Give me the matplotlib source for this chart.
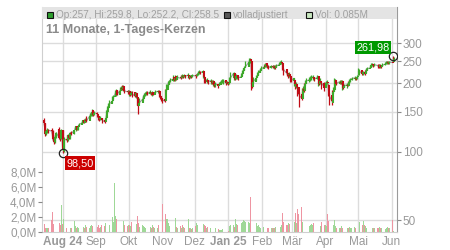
import numpy as np
import pandas as pd
import matplotlib
matplotlib.use('Agg')
import matplotlib.pyplot as plt
import matplotlib.dates as mdates
from matplotlib.patches import Rectangle

plt.rcParams['font.family'] = ['Liberation Sans', 'DejaVu Sans']

# --- daily candles, Jul 15 2024 .. Jun 3 2025 (one line per month) ---
opens = [
    138, 133, 119, 123, 125, 124, 123, 113, 110, 116, 126, 115, 114,
    124, 101, 114, 112, 118, 115, 121, 120, 124, 129, 125, 128, 131, 134, 137, 134, 138, 136, 143, 146, 152, 145, 148,
    147, 143, 139, 141, 138, 135, 140, 150, 156, 162, 166, 173, 176, 186, 178, 185, 190, 188, 195, 185, 183,
    185, 178, 181, 182, 175, 180, 173, 158, 164, 170, 176, 179, 181, 179, 183, 180, 182, 178, 182, 184, 184, 176, 172,
    170, 166, 186, 196, 202, 205, 212, 206, 214, 207, 212, 210, 215, 213, 216, 214, 217, 211, 215, 213, 216,
    215, 217, 220, 224, 222, 226, 212, 202, 207, 203, 205, 200, 204, 196, 199, 195, 197, 202, 204, 206, 200, 202,
    199, 200, 210, 221, 208, 214, 216, 211, 213, 220, 226, 232, 236, 247, 254, 249, 193, 203, 210, 214, 221, 226, 230,
    238, 236, 244, 238, 234, 237, 235, 238, 232, 237, 241, 245, 248, 244, 230, 221, 216, 219, 214, 205,
    206, 192, 199, 193, 179, 171, 188, 184, 198, 204, 207, 209, 211, 213, 208, 211, 214, 198, 204, 201, 191,
    200, 203, 196, 178, 164, 183, 186, 207, 199, 203, 201, 204, 190, 194, 197, 195, 202, 206, 209, 211, 208, 212,
    220, 228, 220, 223, 219, 226, 231, 233, 239, 242, 240, 241, 239, 236, 240, 235, 239, 242, 246, 248, 245, 247,
    248, 257,
]
highs = [
    140, 134, 125, 127, 126, 127, 124, 116, 118, 122, 128, 118, 126,
    125, 116, 118, 120, 119, 122, 123, 125, 130, 130, 130, 133, 138, 138, 139, 140, 144, 148, 150, 154, 150, 151,
    149, 145, 142, 143, 140, 141, 152, 158, 164, 168, 175, 178, 186, 188, 186, 192, 194, 197, 197, 188, 187,
    186, 182, 184, 184, 181, 182, 174, 166, 172, 178, 181, 183, 185, 184, 186, 183, 185, 183, 186, 187, 186, 178, 175,
    172, 188, 198, 204, 207, 210, 217, 212, 218, 213, 216, 217, 219, 218, 220, 218, 221, 216, 218, 217, 219,
    219, 222, 226, 228, 227, 228, 215, 209, 210, 207, 208, 206, 206, 201, 202, 199, 203, 206, 208, 208, 204, 205,
    201, 212, 223, 224, 215, 219, 218, 215, 221, 228, 234, 238, 249, 258, 257, 251, 205, 212, 216, 223, 228, 233, 237,
    243, 244, 246, 242, 239, 241, 240, 240, 239, 243, 247, 251, 252, 246, 234, 226, 222, 224, 217, 212,
    211, 201, 203, 195, 182, 190, 194, 200, 207, 210, 212, 214, 216, 216, 213, 216, 215, 206, 210, 203, 203,
    205, 206, 198, 181, 186, 192, 210, 209, 205, 207, 206, 206, 196, 199, 200, 204, 209, 211, 213, 214, 213, 216,
    232, 231, 225, 225, 228, 233, 235, 241, 244, 246, 243, 245, 243, 242, 242, 241, 244, 248, 250, 251, 249, 250,
    261.98, 259.8,
]
lows = [
    131, 117, 118, 121, 121, 121, 112, 108, 109, 115, 114, 111, 113,
    98.5, 100, 110, 111, 113, 114, 118, 119, 123, 124, 125, 131, 133, 133, 133, 135, 135, 141, 144, 143, 143, 145,
    142, 137, 136, 137, 133, 134, 139, 148, 155, 160, 165, 170, 175, 176, 177, 184, 186, 187, 184, 180, 179,
    176, 176, 178, 174, 174, 172, 160, 147, 163, 169, 174, 176, 178, 177, 179, 177, 176, 177, 180, 181, 174, 170, 166,
    163, 165, 185, 194, 199, 202, 204, 204, 205, 206, 208, 209, 211, 210, 212, 211, 210, 209, 211, 211, 213,
    211, 215, 218, 220, 219, 210, 200, 200, 201, 199, 198, 198, 194, 193, 193, 191, 196, 199, 201, 198, 196, 198,
    197, 199, 209, 206, 207, 208, 209, 206, 212, 218, 224, 229, 235, 245, 246, 186, 190, 201, 206, 212, 218, 223, 228,
    233, 235, 236, 232, 231, 233, 232, 230, 231, 235, 239, 243, 242, 228, 218, 214, 211, 212, 202, 203,
    195, 188, 190, 176, 157, 168, 180, 183, 196, 201, 203, 205, 207, 206, 205, 209, 195, 196, 199, 189, 184,
    196, 198, 175, 160, 160, 180, 184, 196, 196, 199, 198, 186, 188, 192, 191, 194, 200, 203, 206, 206, 206, 208,
    218, 217, 216, 218, 218, 224, 228, 232, 236, 238, 235, 237, 234, 234, 233, 234, 237, 241, 243, 243, 242, 243,
    247, 252.2,
]
closes = [
    133, 119, 123, 125, 124, 123, 113, 110, 116, 121, 115, 113, 124,
    102, 114, 112, 118, 115, 121, 120, 124, 129, 125, 128, 131, 134, 137, 134, 138, 136, 143, 146, 149, 145, 148, 147,
    143, 139, 141, 138, 135, 140, 150, 156, 162, 166, 173, 176, 182, 178, 185, 190, 188, 193, 185, 183, 185,
    178, 181, 180, 175, 180, 173, 158, 164, 170, 176, 179, 181, 179, 183, 180, 182, 178, 182, 184, 183, 176, 172, 169,
    166, 186, 196, 202, 205, 208, 206, 210, 207, 212, 210, 215, 213, 216, 214, 217, 211, 215, 213, 216, 215,
    217, 220, 224, 222, 225, 212, 202, 207, 203, 205, 200, 204, 196, 199, 195, 197, 202, 204, 206, 200, 202, 199,
    200, 210, 221, 208, 214, 216, 211, 213, 220, 226, 232, 236, 247, 253, 249, 193, 203, 210, 214, 221, 226, 230, 235,
    236, 242, 238, 234, 237, 235, 238, 232, 237, 241, 245, 248, 244, 230, 221, 216, 219, 214, 205, 210,
    198, 199, 193, 179, 171, 188, 184, 198, 204, 207, 209, 211, 213, 208, 211, 214, 198, 204, 201, 191, 200,
    203, 201, 178, 166, 183, 186, 207, 199, 203, 201, 204, 190, 194, 197, 195, 202, 206, 209, 211, 208, 212, 214,
    226, 220, 223, 219, 226, 231, 233, 239, 242, 240, 241, 239, 236, 240, 235, 239, 242, 246, 248, 245, 247, 246,
    256, 258.5,
]
volumes_m = [
    1.1, 0.5, 0.6, 0.5, 0.6, 1.6, 2.7, 1.1, 1.0, 0.7, 1.2, 1.0, 3.6,
    1.1, 1.8, 0.6, 0.5, 0.4, 0.6, 0.5, 1.5, 0.8, 0.5, 0.7, 0.6, 0.8, 0.7, 0.6, 0.9, 0.7, 0.6, 0.8, 1.0, 0.8, 0.6,
    0.7, 1.0, 0.6, 0.7, 0.9, 0.8, 1.2, 1.0, 1.1, 0.9, 2.0, 1.3, 6.5, 2.1, 1.8, 1.1, 1.5, 1.0, 1.5, 1.0, 0.8,
    1.0, 0.9, 0.8, 1.4, 0.9, 1.1, 2.2, 1.2, 0.7, 0.9, 0.8, 0.7, 0.6, 0.8, 0.7, 0.6, 0.9, 0.7, 0.6, 0.5, 1.0, 0.8, 1.0,
    3.8, 2.4, 1.7, 1.8, 1.2, 0.8, 1.2, 0.9, 1.9, 0.7, 0.6, 0.8, 0.6, 0.9, 0.7, 0.5, 1.7, 0.6, 0.5, 0.4, 0.5,
    0.8, 1.2, 0.9, 0.7, 0.6, 1.1, 1.0, 0.8, 0.6, 0.7, 0.6, 0.5, 0.8, 0.6, 0.5, 0.4, 0.3, 0.3, 0.3, 0.4, 0.4, 0.4,
    0.2, 0.8, 1.0, 0.9, 0.7, 1.8, 1.1, 1.0, 1.2, 1.3, 1.6, 1.5, 1.4, 1.3, 1.2, 4.7, 2.6, 2.0, 1.2, 0.8, 0.9, 0.7, 0.6,
    0.7, 0.6, 0.6, 0.5, 0.6, 0.5, 0.6, 0.5, 0.6, 0.7, 0.6, 0.7, 0.9, 2.6, 1.3, 1.0, 0.9, 1.2, 1.1, 2.2,
    1.4, 2.6, 1.2, 3.1, 2.4, 3.3, 1.3, 1.2, 1.0, 0.9, 0.8, 0.9, 1.1, 1.0, 1.2, 1.3, 1.3, 0.9, 0.8, 1.3, 1.0,
    0.9, 0.8, 2.4, 1.5, 1.3, 0.9, 1.6, 0.8, 0.6, 0.5, 0.5, 0.8, 0.6, 0.4, 0.5, 0.6, 0.7, 0.6, 0.5, 0.7, 0.6, 0.8,
    1.1, 1.3, 1.0, 1.5, 0.9, 0.8, 0.6, 0.9, 0.7, 0.6, 0.5, 0.5, 0.6, 0.5, 0.7, 0.5, 0.6, 0.4, 0.6, 0.7, 0.5, 0.6,
    1.6, 0.085,
]

month_ticks = ['2024-08-01', '2024-09-01', '2024-10-01', '2024-11-01', '2024-12-01', '2025-01-01',
               '2025-02-01', '2025-03-01', '2025-04-01', '2025-05-01', '2025-06-01']
month_labels = ['Aug 24', 'Sep', 'Okt', 'Nov', 'Dez', 'Jan 25', 'Feb', 'Mär', 'Apr', 'Mai', 'Jun']
price_ticks = [50, 100, 150, 200, 250, 300]
vol_ticks = [0, 2, 4, 6, 8]

n = min(len(opens), len(highs), len(lows), len(closes), len(volumes_m))
o = np.array(opens[:n], float)
h = np.array(highs[:n], float)
l = np.array(lows[:n], float)
c = np.array(closes[:n], float)
v = np.array(volumes_m[:n], float) * 1e6
dates = mdates.date2num(pd.bdate_range('2024-07-15', periods=n))
up = c >= o

GREEN = '#3da82a'
RED = '#c00c16'
GRID = '#dcdcdc'
TXT = '#999999'

W, H = 450, 250
fig = plt.figure(figsize=(4.5, 2.5), dpi=100)
ax = fig.add_axes([42 / W, 18 / H, 355 / W, 225 / H])
axv = ax.twinx()

# price panel (right axis, log)
ax.set_yscale('log')
ax.set_ylim(44.3, 432)
ax.set_xlim(mdates.date2num(pd.Timestamp('2024-07-13')), mdates.date2num(pd.Timestamp('2025-06-06')))
ax.yaxis.tick_right()
ax.set_yticks(price_ticks)
ax.set_yticklabels([str(t) for t in price_ticks])
ax.yaxis.set_minor_locator(matplotlib.ticker.NullLocator())
ax.tick_params(axis='y', which='both', left=False, labelleft=False, right=True, labelright=True,
               colors='#888888', labelcolor=TXT, labelsize=8.5, length=3, width=0.8, pad=1)
xt = mdates.date2num(pd.to_datetime(month_ticks))
ax.set_xticks(xt)
ax.set_xticklabels(month_labels)
ax.tick_params(axis='x', length=0, labelcolor=TXT, labelsize=8.5, pad=3)
for lab in ax.get_xticklabels():
    if lab.get_text() in ('Aug 24', 'Jan 25'):
        lab.set_fontweight('bold')
ax.grid(True, color=GRID, linewidth=1)
ax.set_axisbelow(True)
ax.spines['top'].set_visible(False)
ax.spines['left'].set_color('#cfcfcf')
ax.spines['bottom'].set_color('#cfcfcf')
ax.spines['right'].set_color('#9a9a9a')

ax.plot(dates, c, color='#9a9a9a', linewidth=0.8, zorder=2)
cols = np.where(up, GREEN, RED)
ax.vlines(dates, l, h, colors=cols, linewidth=0.9, zorder=3)
ax.vlines(dates, o, c, colors=cols, linewidth=1.5, zorder=3)

# extreme markers
i_lo = int(np.argmin(l))
i_hi = int(np.argmax(h))
ax.plot(dates[i_lo], l[i_lo], 'o', ms=6, mfc='none', mec='#222222', mew=0.9, zorder=5)
ax.plot(dates[i_hi], h[i_hi], 'o', ms=6, mfc='none', mec='#222222', mew=0.9, zorder=5)
ax.annotate(f'{l[i_lo]:.2f}'.replace('.', ','), (dates[i_lo], l[i_lo]), xytext=(4, -5),
            textcoords='offset pixels', ha='left', va='top', color='white', fontsize=7.8,
            bbox=dict(boxstyle='square,pad=0.15', fc='#cc0000', ec='none'), zorder=6)
ax.annotate(f'{h[i_hi]:.2f}'.replace('.', ','), (dates[i_hi], h[i_hi]), xytext=(-3, 4),
            textcoords='offset pixels', ha='right', va='bottom', color='white', fontsize=7.8,
            bbox=dict(boxstyle='square,pad=0.15', fc='#009900', ec='none'), zorder=6)

# volume panel (left axis)
axv.set_ylim(0, 30e6)
axv.bar(dates, v, width=0.75, color=np.where(up, '#9fd897', '#ee95a2'), linewidth=0, zorder=2)
axv.set_yticks([t * 1e6 for t in vol_ticks])
axv.set_yticklabels([f'{t},0M' for t in vol_ticks])
axv.tick_params(axis='y', left=True, labelleft=True, right=False, labelright=False,
                colors='#888888', labelcolor=TXT, labelsize=8.5, length=3, width=0.8, pad=1)
for s in axv.spines.values():
    s.set_visible(False)

# header band
axv.add_patch(Rectangle((0, 1 - 12 / 225), 1, 12 / 225, transform=axv.transAxes,
                        fc='#e4e4e4', ec='none', zorder=4, clip_on=False))
fig.add_artist(Rectangle((42 / W, 1 - 7 / H), 355 / W, 0.0015, transform=fig.transFigure,
                         fc='#d0d0d0', ec='none'))


def px(x, y):
    return x / W, 1 - y / H


items = [(47, '#2e9e2e', 'Op:257, Hi:259.8, Lo:252.2, Cl:258.5'),
         (224, '#555555', 'volladjustiert'),
         (306, '#c9e8c0', 'Vol: 0.085M')]
for x0, fc, txt in items:
    fig.add_artist(Rectangle(px(x0, 17.5), 5.5 / W, 5.5 / H, transform=fig.transFigure,
                             fc=fc, ec='#111111', lw=0.8))
    fig.text(*px(x0 + 9, 14.7), txt, fontsize=7.2, color='#a0a0a0', va='center', ha='left')

fig.text(*px(46, 29.5), '11 Monate, 1-Tages-Kerzen', fontsize=9, fontweight='bold',
         color='#8a8a8a', va='center', ha='left')

fig.savefig('out.png', dpi=100)
